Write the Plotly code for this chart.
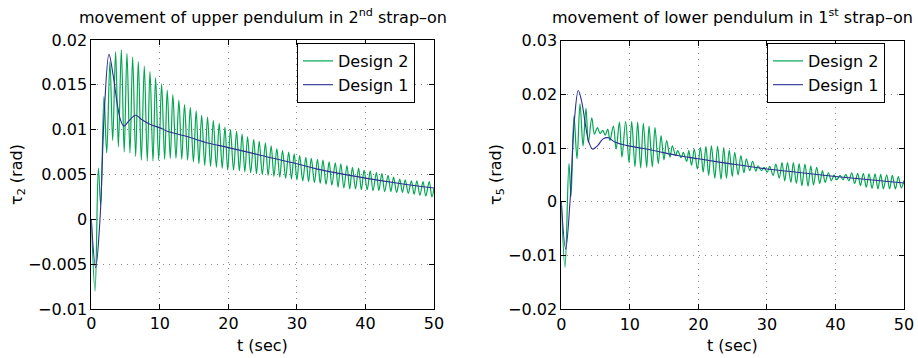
import plotly.graph_objects as go

# ---------------- data ----------------
t_ticks = [0, 10, 20, 30, 40, 50]
t_tick_text = ["0", "10", "20", "30", "40", "50"]

left_y_ticks = [-0.01, -0.005, 0, 0.005, 0.01, 0.015, 0.02]
left_y_text = ["\u22120.01", "\u22120.005", "0", "0.005", "0.01", "0.015", "0.02"]
right_y_ticks = [-0.02, -0.01, 0, 0.01, 0.02, 0.03]
right_y_text = ["\u22120.02", "\u22120.01", "0", "0.01", "0.02", "0.03"]

left_title = "movement of upper pendulum in 2<sup>nd</sup> strap\u2013on"
right_title = "movement of lower pendulum in 1<sup>st</sup> strap\u2013on"
x_label = "t (sec)"
left_y_label = "\u03c4<sub>2</sub> (rad)"
right_y_label = "\u03c4<sub>5</sub> (rad)"
series_names = ["Design 2", "Design 1"]

# upper pendulum (left) - Design 1 (blue)
left_d1_t = [0, 0.64, 1.27, 1.9, 2.58, 3.2, 3.8, 4.3, 4.77, 5.5, 6.47, 7.4, 8.56,
             10, 11.2, 13.7, 16.6, 20, 25, 30, 33, 40, 45, 50]
left_d1_v = [0, -0.0054, 0.0, 0.0120, 0.0184, 0.0160, 0.0128, 0.0110, 0.0104, 0.0110,
             0.0116, 0.0111, 0.0106, 0.0102, 0.0098, 0.0093, 0.0086, 0.0080, 0.0071,
             0.0062, 0.0056, 0.0046, 0.0040, 0.0035]

# upper pendulum (left) - Design 2 (green), successive extremes
left_d2_t = [0, 0.55, 1.03, 1.37, 1.85, 2.25, 2.72, 3.12, 3.55, 3.95, 4.38, 4.8, 5.2, 5.64,
             6.03, 6.47, 6.86, 7.3, 7.73, 8.17, 8.56, 9.0, 9.38, 9.83, 10.26, 10.7, 11.08,
             11.52, 11.9, 12.35, 12.78, 13.2, 13.6, 14.05, 14.44, 14.9, 15.3, 15.7, 16.1,
             16.55, 16.96, 17.4, 17.8, 18.25, 18.66, 19.1, 19.5, 19.9, 20.3, 20.75, 21.2,
             21.6, 22.0, 22.4, 22.8, 23.25, 23.7, 24.1, 24.5, 24.95, 25.4, 25.8, 26.24,
             26.65, 27.07, 27.5, 27.9, 28.35, 28.8, 29.2, 29.6, 30.0, 30.4, 30.85, 31.3,
             31.7, 32.1, 32.55, 33.0, 33.4, 33.8, 34.25, 34.7, 35.1, 35.6, 36.0, 36.4,
             36.85, 37.3, 37.7, 38.1, 38.55, 39.0, 39.4, 39.8, 40.25, 40.7, 41.1, 41.6,
             41.95, 42.4, 42.8, 43.3, 43.7, 44.1, 44.55, 45.0, 45.4, 45.8, 46.25, 46.7,
             47.1, 47.5, 47.95, 48.4, 48.8, 49.3, 49.7, 50.0]
left_d2_v = [0, -0.0080, 0.0057, 0.0016, 0.0137, 0.0074, 0.0176, 0.0088, 0.0187, 0.0081,
             0.0189, 0.0075, 0.0185, 0.0074, 0.0181, 0.0070, 0.0176, 0.0066, 0.0171, 0.0065,
             0.0165, 0.0065, 0.0158, 0.0066, 0.0151, 0.0067, 0.0144, 0.0068, 0.0139, 0.0068,
             0.0133, 0.0067, 0.0128, 0.0066, 0.0125, 0.0064, 0.0121, 0.0062, 0.0116, 0.0060,
             0.0114, 0.0059, 0.0110, 0.0058, 0.0107, 0.0057, 0.0103, 0.0055, 0.0100, 0.0055,
             0.0098, 0.0054, 0.0095, 0.0053, 0.0092, 0.0052, 0.0089, 0.0051, 0.0087, 0.0050,
             0.0085, 0.0049, 0.0082, 0.0048, 0.0079, 0.0047, 0.0077, 0.0046, 0.0075, 0.0045,
             0.0073, 0.0044, 0.0071, 0.0043, 0.0069, 0.0042, 0.0068, 0.0041, 0.0067, 0.0040,
             0.0066, 0.0039, 0.0064, 0.0038, 0.0063, 0.0036, 0.0062, 0.0035, 0.0060, 0.0034,
             0.0058, 0.0034, 0.0057, 0.0033, 0.0055, 0.0033, 0.0054, 0.0032, 0.0052, 0.0032,
             0.0051, 0.0031, 0.0049, 0.0031, 0.0047, 0.0030, 0.0045, 0.0030, 0.0044, 0.0029,
             0.0043, 0.0028, 0.0043, 0.0027, 0.0042, 0.0026, 0.0042, 0.0025, 0.0035]

# lower pendulum (right) - Design 1 (blue)
right_d1_t = [0, 0.64, 1.27, 1.9, 2.48, 3.0, 3.5, 4.0, 4.55, 5.0, 5.4, 6.1, 6.9, 7.8,
              8.8, 9.8, 12, 14, 17, 20, 25, 30, 35, 40, 45, 50]
right_d1_v = [0, -0.0088, 0.0, 0.0150, 0.0207, 0.0185, 0.0145, 0.0112, 0.0098, 0.0101,
              0.0106, 0.0117, 0.0119, 0.0111, 0.0107, 0.0104, 0.0099, 0.0094, 0.0086,
              0.0080, 0.0070, 0.0061, 0.0054, 0.0047, 0.0041, 0.0035]

# lower pendulum (right) - Design 2 (green), successive extremes
right_d2_t = [0, 0.54, 1.12, 1.42, 1.85, 2.29, 2.73, 3.17, 3.6, 3.95, 4.45, 4.83, 5.27, 5.65,
              6.05, 6.4, 6.78, 7.1, 7.6, 8.0, 8.48, 8.85, 9.39, 9.88, 10.27, 10.75, 11.14,
              11.58, 11.97, 12.46, 12.8, 13.28, 13.67, 14.15, 14.55, 14.98, 15.37, 15.86,
              16.2, 16.69, 16.97, 17.5, 17.8, 18.3, 18.6, 19.0, 19.4, 19.85, 20.3, 20.7,
              21.1, 21.5, 21.9, 22.4, 22.8, 23.3, 23.7, 24.1, 24.5, 24.95, 25.3, 25.8, 26.2,
              26.65, 27.0, 27.5, 27.9, 28.4, 28.7, 29.2, 29.6, 30.05, 30.4, 30.9, 31.3, 31.8,
              32.2, 32.6, 33.0, 33.5, 33.85, 34.3, 34.7, 35.1, 35.55, 36.0, 36.4, 36.8, 37.26,
              37.7, 38.1, 38.5, 38.96, 39.4, 39.8, 40.2, 40.66, 41.1, 41.5, 41.95, 42.37,
              42.8, 43.24, 43.65, 44.06, 44.5, 44.9, 45.35, 45.77, 46.2, 46.6, 47.0, 47.47,
              47.9, 48.3, 48.75, 49.17, 49.6, 50.0]
right_d2_v = [0, -0.0122, 0.0071, 0.0010, 0.0160, 0.0080, 0.0182, 0.0104, 0.0174, 0.0110,
              0.0156, 0.0126, 0.0138, 0.0127, 0.0133, 0.0124, 0.0135, 0.0114, 0.0141, 0.0098,
              0.0148, 0.0083, 0.0149, 0.0073, 0.0149, 0.0065, 0.0148, 0.0063, 0.0146, 0.0064,
              0.0141, 0.0065, 0.0138, 0.0071, 0.0123, 0.0078, 0.0114, 0.0083, 0.0104, 0.0086,
              0.0095, 0.0082, 0.0092, 0.0075, 0.0095, 0.0068, 0.0098, 0.0061, 0.0101, 0.0055,
              0.0103, 0.0049, 0.0104, 0.0044, 0.0103, 0.0042, 0.0101, 0.0044, 0.0096, 0.0047,
              0.0092, 0.0050, 0.0086, 0.0054, 0.0080, 0.0058, 0.0075, 0.0057, 0.0067, 0.0058,
              0.0064, 0.0055, 0.0066, 0.0049, 0.0070, 0.0044, 0.0073, 0.0039, 0.0073, 0.0036,
              0.0073, 0.0034, 0.0071, 0.0030, 0.0070, 0.0029, 0.0067, 0.0031, 0.0064, 0.0034,
              0.0058, 0.0036, 0.0054, 0.0039, 0.0050, 0.0041, 0.0049, 0.0041, 0.0051, 0.0039,
              0.0054, 0.0034, 0.0053, 0.0030, 0.0053, 0.0027, 0.0052, 0.0025, 0.0052, 0.0024,
              0.0051, 0.0024, 0.0050, 0.0024, 0.0049, 0.0024, 0.0047, 0.0026, 0.0040]

# ---------------- styling ----------------
W, H = 918, 358
GREEN = "#00a651"
BLUE = "#2b2d94"
FONT = "DejaVu Sans"
FS = 16

# pixel boxes of the two axes (left, right, top, bottom)
boxes = [(91.3, 434.0, 40.0, 309.0), (561.3, 904.0, 40.5, 309.3)]


def xdom(b):
    return [b[0] / W, b[1] / W]


def ydom(b):
    return [1 - b[3] / H, 1 - b[2] / H]


fig = go.Figure()
panels = [
    (left_d2_t, left_d2_v, left_d1_t, left_d1_v, "x", "y", "legend"),
    (right_d2_t, right_d2_v, right_d1_t, right_d1_v, "x2", "y2", "legend2"),
]
for g_t, g_v, b_t, b_v, xa, ya, lg in panels:
    fig.add_trace(go.Scatter(x=g_t, y=g_v, mode="lines", name=series_names[0],
                             line=dict(color=GREEN, width=1.2, shape="spline", smoothing=1.0),
                             xaxis=xa, yaxis=ya, legend=lg))
    fig.add_trace(go.Scatter(x=b_t, y=b_v, mode="lines", name=series_names[1],
                             line=dict(color=BLUE, width=1.1, shape="spline", smoothing=1.0),
                             xaxis=xa, yaxis=ya, legend=lg))

axis_common = dict(showgrid=True, gridcolor="#8a8a8a", griddash="1px,5px", gridwidth=1,
                   showline=True, linecolor="black", linewidth=1, mirror="ticks",
                   ticks="inside", ticklen=5, tickcolor="black", zeroline=False,
                   tickfont=dict(family=FONT, size=FS, color="black"), automargin=False)

fig.update_layout(
    width=W, height=H, margin=dict(l=0, r=0, t=0, b=0),
    paper_bgcolor="white", plot_bgcolor="white",
    xaxis=dict(domain=xdom(boxes[0]), range=[0, 50], anchor="y",
               tickvals=t_ticks, ticktext=t_tick_text, **axis_common),
    yaxis=dict(domain=ydom(boxes[0]), range=[-0.01, 0.02], anchor="x",
               tickvals=left_y_ticks, ticktext=left_y_text, **axis_common),
    xaxis2=dict(domain=xdom(boxes[1]), range=[0, 50], anchor="y2",
                tickvals=t_ticks, ticktext=t_tick_text, **axis_common),
    yaxis2=dict(domain=ydom(boxes[1]), range=[-0.02, 0.03], anchor="x2",
                tickvals=right_y_ticks, ticktext=right_y_text, **axis_common),
    showlegend=True,
)

legend_common = dict(xanchor="right", yanchor="top", bgcolor="white",
                     bordercolor="black", borderwidth=1,
                     font=dict(family=FONT, size=FS, color="black"),
                     traceorder="normal", itemwidth=30, tracegroupgap=0)
fig.update_layout(
    legend=dict(x=415 / W, y=1 - 43 / H, **legend_common),
    legend2=dict(x=885 / W, y=1 - 43 / H, **legend_common),
)

annots = []
for b, title, ylab, ylab_x in [(boxes[0], left_title, left_y_label, 17.5),
                               (boxes[1], right_title, right_y_label, 497)]:
    cx = (b[0] + b[1]) / 2 / W
    annots.append(dict(text=title, x=cx, y=1 - 17 / H, xref="paper", yref="paper",
                       xanchor="center", yanchor="middle", showarrow=False,
                       font=dict(family=FONT, size=FS, color="black")))
    annots.append(dict(text=x_label, x=cx, y=1 - 345 / H, xref="paper", yref="paper",
                       xanchor="center", yanchor="middle", showarrow=False,
                       font=dict(family=FONT, size=FS, color="black")))
    annots.append(dict(text=ylab, x=ylab_x / W, y=1 - ((b[2] + b[3]) / 2) / H,
                       xref="paper", yref="paper", xanchor="center", yanchor="middle",
                       textangle=-90, showarrow=False,
                       font=dict(family=FONT, size=FS, color="black")))
fig.update_layout(annotations=annots)

fig.write_html("out.html", config={"displayModeBar": False},
               post_script="document.body.style.margin='0';")
